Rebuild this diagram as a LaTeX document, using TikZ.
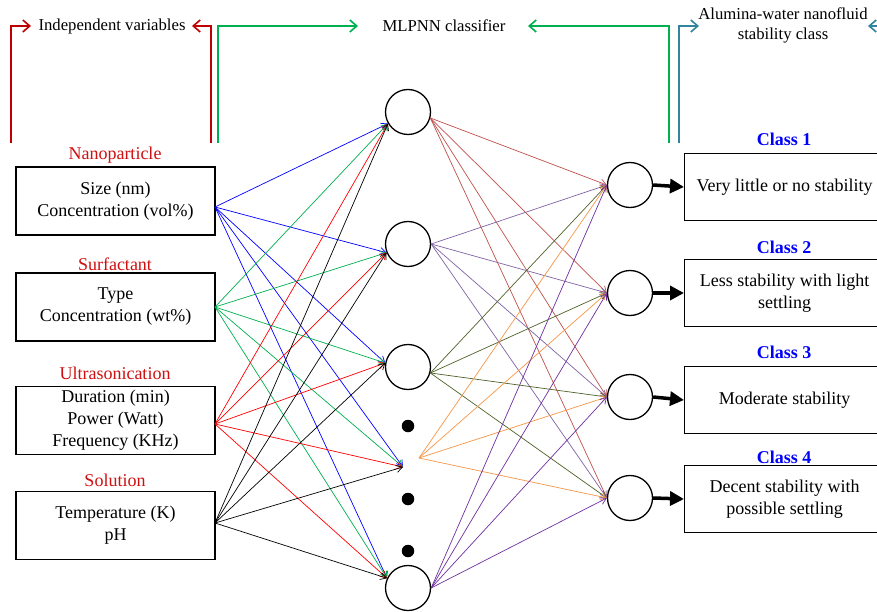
\documentclass[tikz,border=0pt]{standalone}
\usepackage{fontspec}
\setmainfont{Liberation Serif}
\usetikzlibrary{arrows.meta}
\definecolor{bred}{HTML}{C00000}
\definecolor{hred}{HTML}{D01010}
\definecolor{bgreen}{HTML}{00B050}
\definecolor{bteal}{HTML}{31859C}
\definecolor{hA}{HTML}{C0504D}
\definecolor{hB}{HTML}{8064A2}
\definecolor{hC}{HTML}{4F6228}
\definecolor{hD}{HTML}{F79646}
\definecolor{hE}{HTML}{7030A0}
\definecolor{cblue}{HTML}{0000FF}
\begin{document}
\begin{tikzpicture}[x=1pt,y=-1pt,
  neuron/.style={circle,draw,line width=1.3pt,minimum size=45pt,inner sep=0pt},
  inbox/.style={draw,line width=1.3pt,minimum width=199pt,minimum height=68pt,align=center,font=\fontsize{18}{22}\selectfont},
  outbox/.style={draw,line width=1.3pt,minimum width=200pt,minimum height=67pt,align=center,font=\fontsize{18}{22}\selectfont},
  headlab/.style={text=hred,font=\fontsize{18}{22}\selectfont},
  classlab/.style={text=cblue,font=\bfseries\fontsize{18}{22}\selectfont},
  toplab/.style={align=center,font=\fontsize{16.7}{20}\selectfont},
  bracket/.style={line width=1.6pt,-{Straight Barb[length=7pt,width=12pt,line width=1.6pt]}},
  net/.style={line width=0.7pt,-{Straight Barb[length=6pt,width=7pt]}},
  thick arrow/.style={line width=3.5pt,-{Triangle[length=14pt,width=14pt]}},
  dotnode/.style={circle,fill,inner sep=0pt,minimum size=12.5pt}]
\clip (0,0) rectangle (877,612);
\fill[white] (0,0) rectangle (877,612);

% top labels
\node[toplab] (tl1) at (112,26) {Independent variables};
\node[toplab] (tl2) at (444,26) {MLPNN classifier};
\node[toplab] (tl3) at (783,25) {Alumina-water nanofluid\\stability class};

% brackets
\draw[bracket,bred] (11,143) -- (11,26) -- (31,26);
\draw[bracket,bred] (211,143) -- (211,26) -- (192,26);
\draw[bracket,bgreen] (218,143) -- (218,26) -- (358,26);
\draw[bracket,bgreen] (669,143) -- (669,26) -- (528,26);
\draw[bracket,bteal] (679,143) -- (679,26) -- (699,26);
\draw[bracket,bteal] (890,26) -- (868,26);

% input boxes
\node[inbox] (b1) at (115.5,201) {Size (nm)\\Concentration (vol\%)};
\node[inbox] (b2) at (115.5,307) {Type\\Concentration (wt\%)};
\node[inbox] (b3) at (115.5,420.5) {Duration (min)\\Power (Watt)\\Frequency (KHz)};
\node[inbox] (b4) at (115.5,525.5) {Temperature (K)\\pH};
\node[headlab] (l1) at (115,155) {Nanoparticle};
\node[headlab] (l2) at (115,264) {Surfactant};
\node[headlab] (l3) at (115,373) {Ultrasonication};
\node[headlab] (l4) at (115,480) {Solution};

\coordinate (i1) at (215,207);
\coordinate (i2) at (215,307);
\coordinate (i3) at (215,424);
\coordinate (i4) at (215,523);

% hidden layer
\node[neuron] (h1) at (408,112) {};
\node[neuron] (h2) at (408,244) {};
\node[neuron] (h3) at (408,367) {};
\node[neuron] (h5) at (408,588) {};
\coordinate (hv) at (403,467);
\coordinate (hvo) at (419,458);
\node[dotnode] (d1) at (408,426) {};
\node[dotnode] (d2) at (408,499) {};
\node[dotnode] (d3) at (408,551) {};

% output layer
\node[neuron] (o1) at (630,185) {};
\node[neuron] (o2) at (630,293) {};
\node[neuron] (o3) at (630,397) {};
\node[neuron] (o4) at (630,498) {};

% output boxes
\node[outbox,anchor=west] (c1) at (684,187) {Very little or no stability};
\node[outbox,anchor=west] (c2) at (684,293) {Less stability with light\\settling};
\node[outbox,anchor=west] (c3) at (684,400) {Moderate stability};
\node[outbox,anchor=west] (c4) at (684,499) {Decent stability with\\possible settling};
\node[classlab] (k1) at (784,139) {Class 1};
\node[classlab] (k2) at (784,247) {Class 2};
\node[classlab] (k3) at (784,352) {Class 3};
\node[classlab] (k4) at (784,457) {Class 4};

% input -> hidden
\foreach \s/\c in {i1/cblue,i2/bgreen,i3/red,i4/black}
  \foreach \t in {h1.210,h2.202,h3.170,hv,h5.155}
    \draw[net,\c] (\s) -- (\t);

% hidden -> output
\foreach \s/\c in {h1.345/hA,h2.0/hB,h3.345/hC,hvo/hD,h5.0/hE}
  \foreach \t in {o1,o2,o3,o4}
    \draw[net,\c] (\s) -- (\t.west);

% output -> class boxes
\draw[thick arrow] (o1.east) -- (c1.west);
\draw[thick arrow] (o2.east) -- (c2.west);
\draw[thick arrow] (o3.east) -- (c3.west);
\draw[thick arrow] (o4.east) -- (c4.west);
\end{tikzpicture}
\end{document}
